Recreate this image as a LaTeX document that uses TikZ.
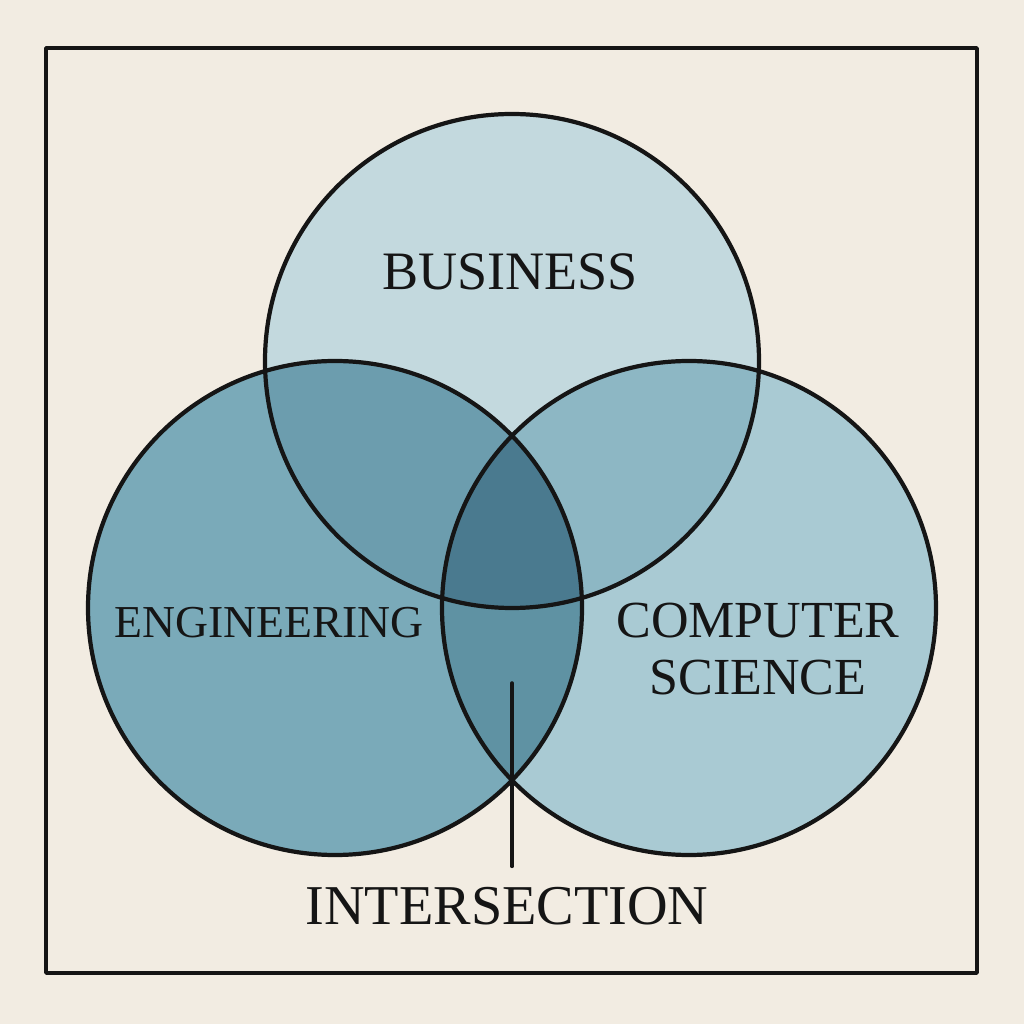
\documentclass[tikz,border=0pt]{standalone}
\usepackage{fontspec}
\setmainfont{Liberation Serif}
\definecolor{paper}{HTML}{F2ECE2}
\definecolor{busfill}{HTML}{C3D9DE}
\definecolor{engfill}{HTML}{7AAAB9}
\definecolor{csfill}{HTML}{A9CAD3}
\definecolor{busengfill}{HTML}{6C9DAE}
\definecolor{buscsfill}{HTML}{8DB7C4}
\definecolor{engcsfill}{HTML}{5F92A3}
\definecolor{allfill}{HTML}{4A7A8F}
\definecolor{ink}{HTML}{151515}
\begin{document}
\begin{tikzpicture}[line join=round, line cap=round, font=\fontsize{15.4}{17}\selectfont,
		label/.style={text=ink, inner sep=0pt, align=center}]
			\def\r{2.47}
			\def\bus{(5.12,6.63) circle (\r)}
			\def\eng{(3.35,4.16) circle (\r)}
			\def\cs{(6.89,4.16) circle (\r)}
			\fill[paper] (0,0) rectangle (10.24,10.24);
			\useasboundingbox (0,0) rectangle (10.24,10.24);
			\draw[ink, line width=1pt] (0.46,0.51) rectangle (9.77,9.76);
			% single sets
			\fill[busfill] \bus;
			\fill[engfill] \eng;
			\fill[csfill] \cs;
			% overlaps
			\begin{scope} \clip \bus; \fill[busengfill] \eng; \fill[buscsfill] \cs; \end{scope}
			\begin{scope} \clip \eng; \fill[engcsfill] \cs; \end{scope}
			\begin{scope} \clip \bus; \clip \eng; \fill[allfill] \cs; \end{scope}
			\draw[ink, line width=1.2pt] \bus \eng \cs;
			\node[label] (business) at (5.10,7.52) {BUSINESS};
			\node[label, font=\fontsize{13}{15}\selectfont] (engineering) at (2.69,4.01) {ENGINEERING};
			\node[label, font=\fontsize{14.8}{16.4}\selectfont] (compsci) at (7.58,3.75) {COMPUTER\\SCIENCE};
			\node[label, font=\fontsize{16}{18}\selectfont] (intersection) at (5.07,1.18) {INTERSECTION};
			\coordinate (lens) at (5.12,3.41);
			\draw[ink, line width=1pt] (lens) -- ([yshift=0.2cm]intersection.north -| lens);
		\end{tikzpicture}
\end{document}
